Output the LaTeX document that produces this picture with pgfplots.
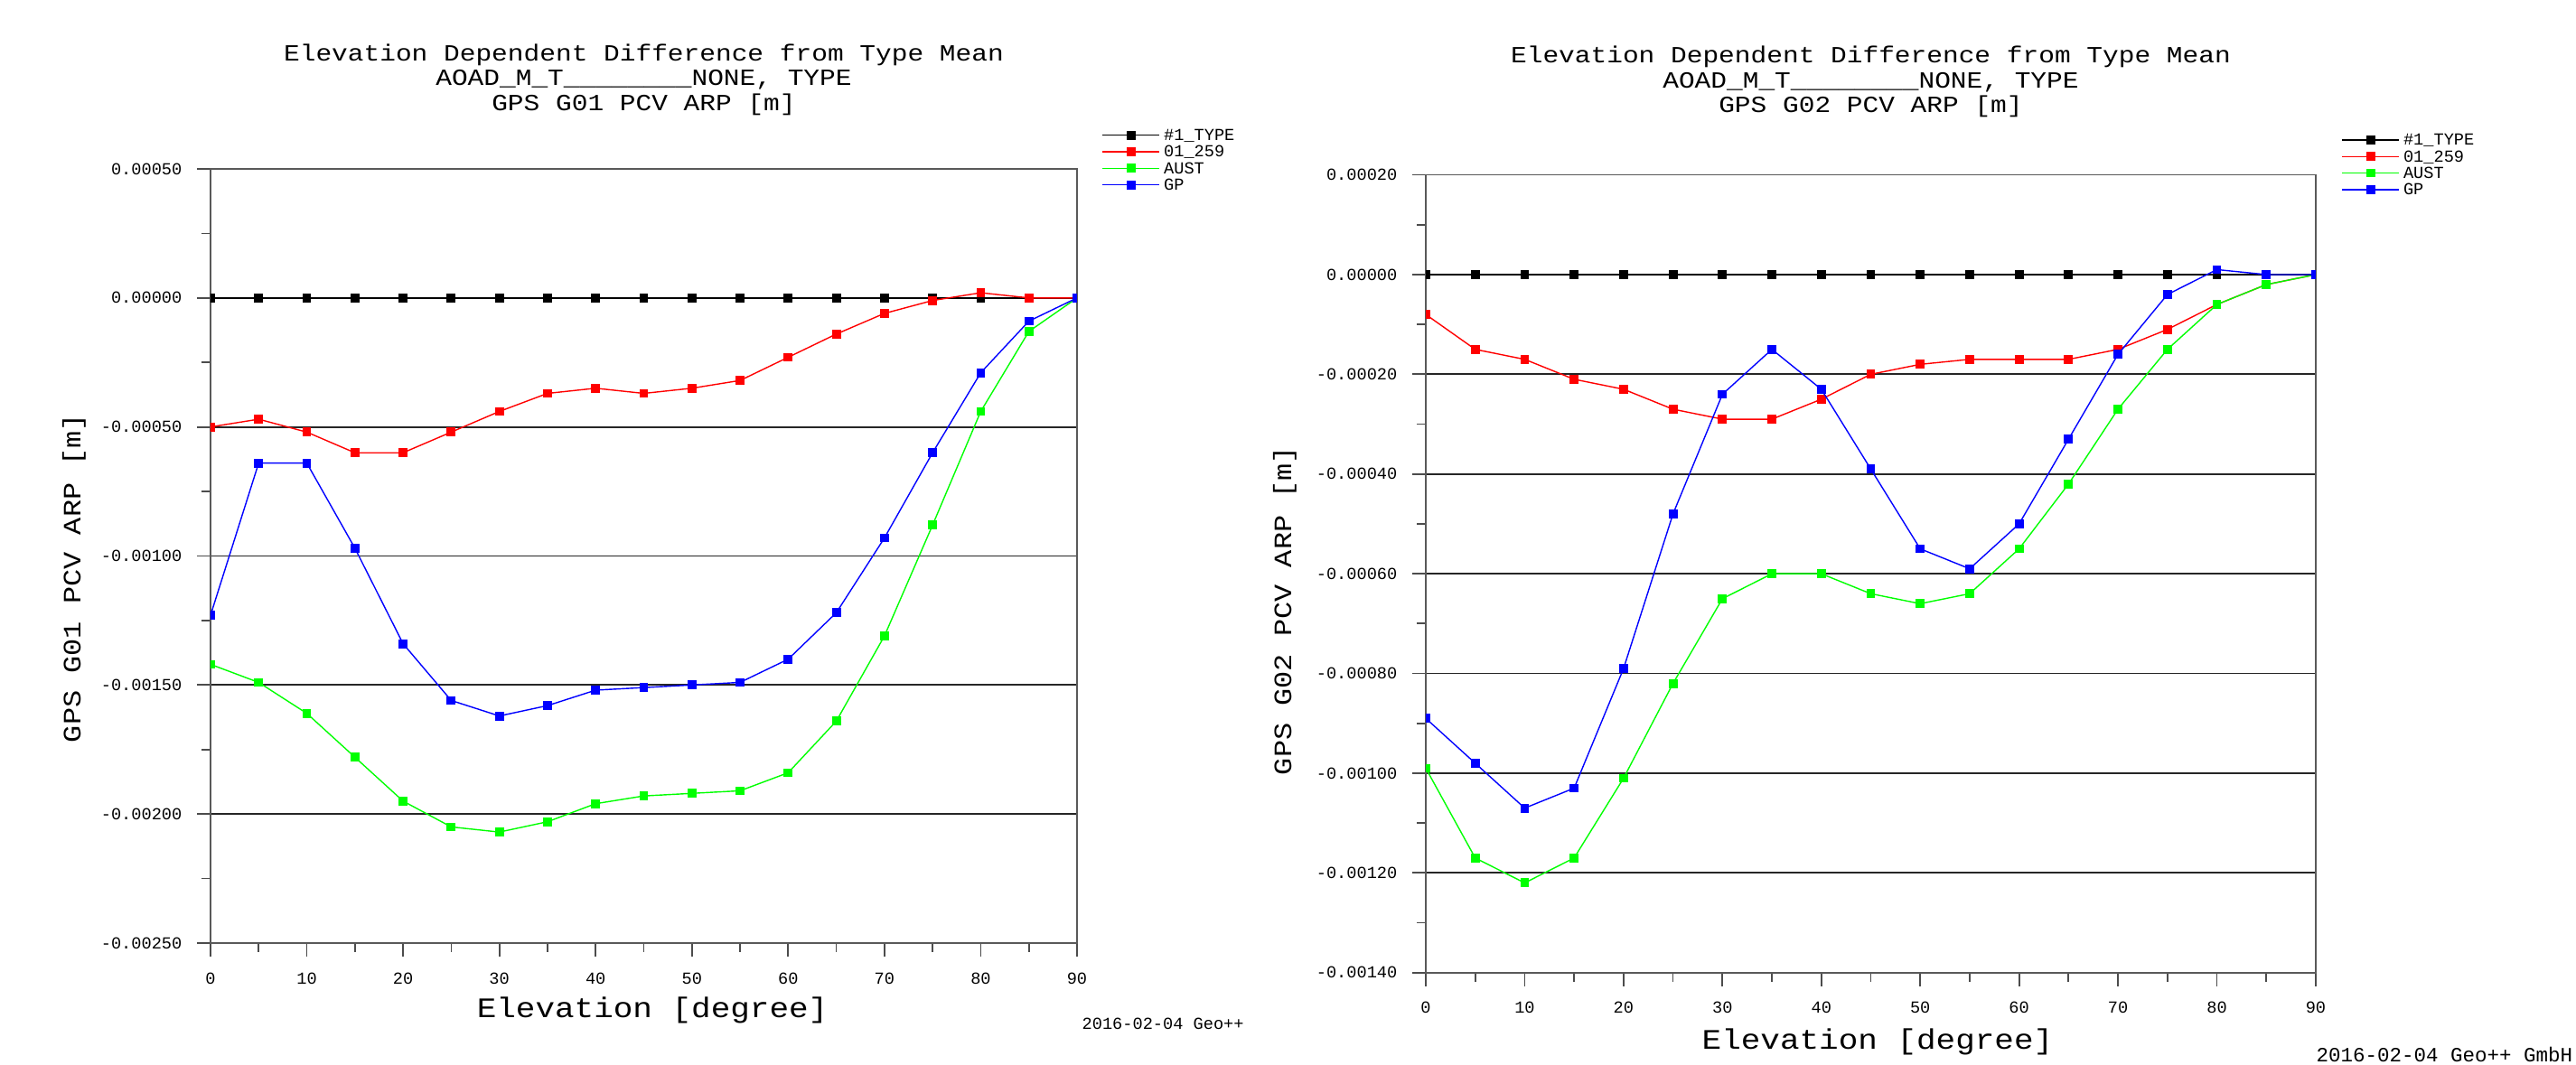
\documentclass[border=0pt]{standalone}
\usepackage{fontspec}
\usepackage{pgfplots}
\usepackage{pgfplotstable}
\pgfplotsset{compat=1.18}

\newfontfamily\monofont{Liberation Mono}
\newfontfamily\widemono[FakeStretch=1.15]{Liberation Mono}
\newcommand\tickfont{\monofont\fontsize{5.3}{6}\selectfont}
\newcommand\footfont{\monofont\fontsize{6.4}{7}\selectfont}
\newcommand\titlefont{\widemono\fontsize{7.3}{7.82}\selectfont}
\newcommand\labelfont{\widemono\fontsize{8.9}{10}\selectfont}
\newcommand\ylabfont{\widemono\fontsize{7.9}{9}\selectfont}

\definecolor{pred}{HTML}{FF0000}
\definecolor{pgreen}{HTML}{00FF00}
\definecolor{pblue}{HTML}{0000FF}

% G01 elevation dependent differences [m]
\pgfplotstableread{
elev type r259 aust gp
0  0 -0.00050 -0.00142 -0.00123
5  0 -0.00047 -0.00149 -0.00064
10 0 -0.00052 -0.00161 -0.00064
15 0 -0.00060 -0.00178 -0.00097
20 0 -0.00060 -0.00195 -0.00134
25 0 -0.00052 -0.00205 -0.00156
30 0 -0.00044 -0.00207 -0.00162
35 0 -0.00037 -0.00203 -0.00158
40 0 -0.00035 -0.00196 -0.00152
45 0 -0.00037 -0.00193 -0.00151
50 0 -0.00035 -0.00192 -0.00150
55 0 -0.00032 -0.00191 -0.00149
60 0 -0.00023 -0.00184 -0.00140
65 0 -0.00014 -0.00164 -0.00122
70 0 -0.00006 -0.00131 -0.00093
75 0 -0.00001 -0.00088 -0.00060
80 0  0.00002 -0.00044 -0.00029
85 0  0.00000 -0.00013 -0.00009
90 0  0.00000  0.00000  0.00000
}\tabGa

% G02
\pgfplotstableread{
elev type r259 aust gp
0  0 -0.00008 -0.00099 -0.00089
5  0 -0.00015 -0.00117 -0.00098
10 0 -0.00017 -0.00122 -0.00107
15 0 -0.00021 -0.00117 -0.00103
20 0 -0.00023 -0.00101 -0.00079
25 0 -0.00027 -0.00082 -0.00048
30 0 -0.00029 -0.00065 -0.00024
35 0 -0.00029 -0.00060 -0.00015
40 0 -0.00025 -0.00060 -0.00023
45 0 -0.00020 -0.00064 -0.00039
50 0 -0.00018 -0.00066 -0.00055
55 0 -0.00017 -0.00064 -0.00059
60 0 -0.00017 -0.00055 -0.00050
65 0 -0.00017 -0.00042 -0.00033
70 0 -0.00015 -0.00027 -0.00016
75 0 -0.00011 -0.00015 -0.00004
80 0 -0.00006 -0.00006  0.00001
85 0 -0.00002 -0.00002  0.00000
90 0  0.00000  0.00000  0.00000
}\tabGb

\pgfplotsset{
  gplot/.style={
    scale only axis,
    xmin=0, xmax=90,
    xtick={0,10,...,90}, minor xtick={5,15,...,85},
    ymajorgrids,
    grid style={black!85, line width=0.5pt},
    axis line style={black!65, line width=0.5pt},
    tick pos=left, tick align=outside,
    major tick length=1.5mm, minor tick length=1mm,
    every tick/.style={black!70, line width=0.5pt},
    scaled y ticks=false,
    /pgf/number format/assume math mode=true,
    tick label style={font=\tickfont, inner sep=0pt},
    yticklabel style={anchor=east, xshift=-1.6mm,
      /pgf/number format/.cd, fixed, fixed zerofill, precision=5},
    xticklabel style={anchor=north, yshift=-1.7mm},
    clip marker paths=true,
    every axis plot/.append style={line width=0.4pt, mark=square*, mark size=1.2pt, mark options={solid}},
    title style={font=\titlefont, align=center, inner sep=0pt, at={(0.5,1)}, anchor=south},
    xlabel style={font=\labelfont, inner sep=0pt, anchor=base},
    ylabel style={font=\ylabfont, inner sep=0pt, anchor=center},
    legend style={draw=none, fill=none, font=\tickfont, anchor=north west, inner sep=0pt,
      nodes={inner xsep=0.4mm, inner ysep=0pt, text height=1.5mm, text depth=0.33mm}},
    legend cell align=left,
    legend image code/.code={\draw[mark repeat=2,mark phase=2,##1] plot coordinates {(0cm,0cm) (0.315cm,0cm) (0.63cm,0cm)};},
  }
}

\begin{document}
\begin{tikzpicture}
\useasboundingbox (0,0) rectangle (28.51cm,11.79cm);

\begin{axis}[gplot,
  at={(2.33cm,1.35cm)}, anchor=south west,
  width=9.59cm, height=8.57cm,
  ymin=-0.0025, ymax=0.0005,
  ytick={-0.0025,-0.0020,-0.0015,-0.0010,-0.0005,0,0.0005},
  minor ytick={-0.00225,-0.00175,-0.00125,-0.00075,-0.00025,0.00025},
  title={Elevation Dependent Difference from Type Mean\\AOAD\_M\_T\_\_\_\_\_\_\_\_NONE, TYPE\\GPS G01 PCV ARP [m]},
  title style={yshift=3.75mm},
  xlabel={Elevation [degree]},
  xlabel style={at={(0.51,-0.0963)}},
  ylabel={GPS G01 PCV ARP [m]},
  ylabel style={at={(-0.1575,0.4714)}},
  legend style={at={(1.0282,1.055)}},
]
\addplot[black]  table[x=elev,y=type] {\tabGa};
\addlegendentry{\#1\_TYPE}
\addplot[pred]   table[x=elev,y=r259] {\tabGa};
\addlegendentry{01\_259}
\addplot[pgreen] table[x=elev,y=aust] {\tabGa};
\addlegendentry{AUST}
\addplot[pblue]  table[x=elev,y=gp]   {\tabGa};
\addlegendentry{GP}
\end{axis}

\begin{axis}[gplot,
  at={(15.78cm,1.022cm)}, anchor=south west,
  width=9.85cm, height=8.832cm,
  ymin=-0.0014, ymax=0.0002,
  ytick={-0.0014,-0.0012,-0.0010,-0.0008,-0.0006,-0.0004,-0.0002,0,0.0002},
  minor ytick={-0.0013,-0.0011,-0.0009,-0.0007,-0.0005,-0.0003,-0.0001,0.0001},
  title={Elevation Dependent Difference from Type Mean\\AOAD\_M\_T\_\_\_\_\_\_\_\_NONE, TYPE\\GPS G02 PCV ARP [m]},
  title style={yshift=4.16mm},
  xlabel={Elevation [degree]},
  xlabel style={at={(0.5076,-0.0959)}},
  ylabel={GPS G02 PCV ARP [m]},
  ylabel style={at={(-0.1584,0.4538)}},
  legend style={at={(1.0284,1.0549)}},
]
\addplot[black]  table[x=elev,y=type] {\tabGb};
\addlegendentry{\#1\_TYPE}
\addplot[pred]   table[x=elev,y=r259] {\tabGb};
\addlegendentry{01\_259}
\addplot[pgreen] table[x=elev,y=aust] {\tabGb};
\addlegendentry{AUST}
\addplot[pblue]  table[x=elev,y=gp]   {\tabGb};
\addlegendentry{GP}
\end{axis}

\node[anchor=base west, font=\tickfont, inner sep=0pt] at (11.97cm,0.39cm) {2016-02-04 Geo++};
\node[anchor=base west, font=\footfont, inner sep=0pt] at (25.63cm,0.03cm) {2016-02-04 Geo++ GmbH};
\end{tikzpicture}
\end{document}
